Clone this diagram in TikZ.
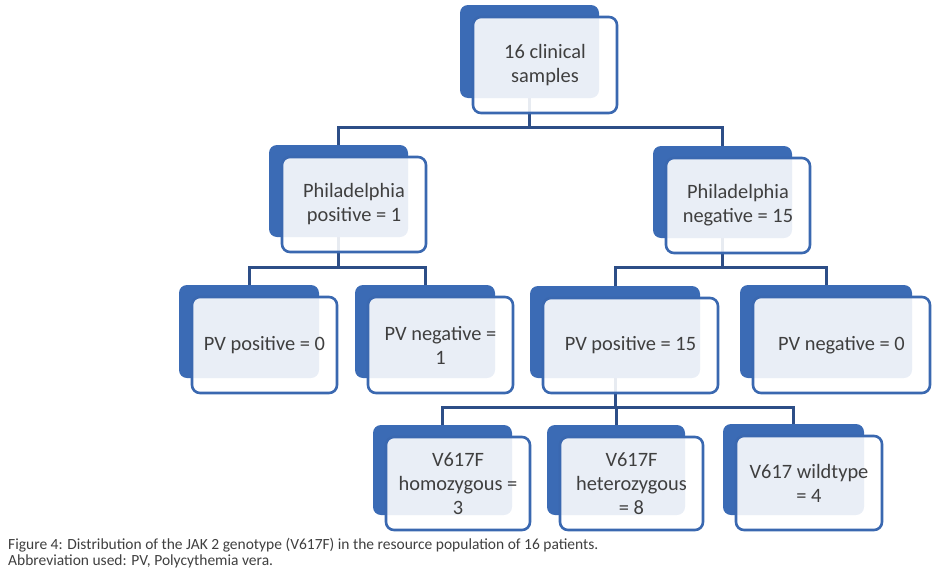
\documentclass[tikz,border=0pt]{standalone}
\usepackage{fontspec}
\setmainfont{Carlito}
\usepackage{xcolor}
\usepackage{tikz}
\usetikzlibrary{positioning, backgrounds, calc}
\definecolor{cardblue}{HTML}{3B6BB5}
\definecolor{cardedge}{HTML}{3A68B0}
\definecolor{linkblue}{HTML}{2D4E87}
\definecolor{ink}{HTML}{3F3F3F}

\begin{document}
\begin{tikzpicture}[x=1pt, y=-1pt,
  backbox/.style={fill=cardblue, rounded corners=8pt, inner sep=0pt},
  cardbox/.style={draw=cardedge, line width=2.6pt, rounded corners=8pt, fill=white,
    fill opacity=0.89, text opacity=1, text=ink, align=center, inner sep=3pt,
    font=\fontsize{20.4}{24}\selectfont},
  link/.style={draw=linkblue, line width=3pt},
  caption/.style={text=ink, inner sep=0pt, font=\fontsize{15.5}{15.5}\selectfont}]
  \useasboundingbox (0,0) rectangle (946,576);
  % Cards: back plate first, then the front card
  \foreach \nm/\cx/\cy/\w/\h/\txt in {
      samples/545/65/144/96/{16 clinical\\samples},
      phpos/354/204.5/144/95/{Philadelphia\\positive = 1},
      phneg/738/205.5/144/95/{Philadelphia\\negative = 15},
      pvposA/264.5/345/145/96/{PV positive = 0},
      pvnegA/440.5/345/145/96/{PV negative =\\1},
      pvposB/630.5/345.5/175/95/{PV positive = 15},
      pvnegB/841.5/345/177/96/{PV negative = 0},
      homo/458/483.5/144/93/{V617F\\homozygous =\\3},
      hetero/631.5/483.5/143/93/{V617F\\heterozygous\\= 8},
      wild/809/483/146/94/{V617 wildtype\\= 4}} {
    \node[backbox, minimum width={(\w-5)*1pt}, minimum height={(\h-3)*1pt}]
      (\nm-bk) at (\cx-15.5,\cy-13.5) {};
    \node[cardbox, minimum width={\w*1pt}, minimum height={\h*1pt}]
      (\nm) at (\cx,\cy) {\txt};
  }
  % Tree connectors
  \begin{scope}[on background layer]
    \coordinate (bus1) at (0,127);
    \coordinate (bus2) at (0,267);
    \coordinate (bus3) at (0,407);
    \draw[link] (samples-bk) -- (bus1 -| samples-bk);
    \draw[link] (phpos-bk.north) |- (bus1 -| samples-bk) -| (phneg-bk.north);
    \draw[link] (phpos-bk) -- (bus2 -| phpos-bk);
    \draw[link] (pvposA-bk.north) |- (bus2 -| phpos-bk) -| (pvnegA-bk.north);
    \draw[link] (phneg-bk) -- (bus2 -| phneg-bk);
    \draw[link] (pvposB-bk.north) |- (bus2 -| phneg-bk) -| (pvnegB-bk.north);
    \draw[link] (pvposB-bk) -- (bus3 -| pvposB-bk);
    \draw[link] (homo-bk.north) |- (bus3 -| pvposB-bk) -| (wild-bk.north);
    \draw[link] (hetero-bk.north) -- (bus3 -| hetero-bk);
  \end{scope}
  % Caption
  \node[caption, anchor=base west] (capA) at (8,549)
    {Figure 4: Distribution of the JAK 2 genotype (V617F) in the resource population of 16 patients.};
  \node[caption, anchor=base west] (capB) at (8,565)
    {Abbreviation used: PV, Polycythemia vera.};
\end{tikzpicture}
\end{document}
